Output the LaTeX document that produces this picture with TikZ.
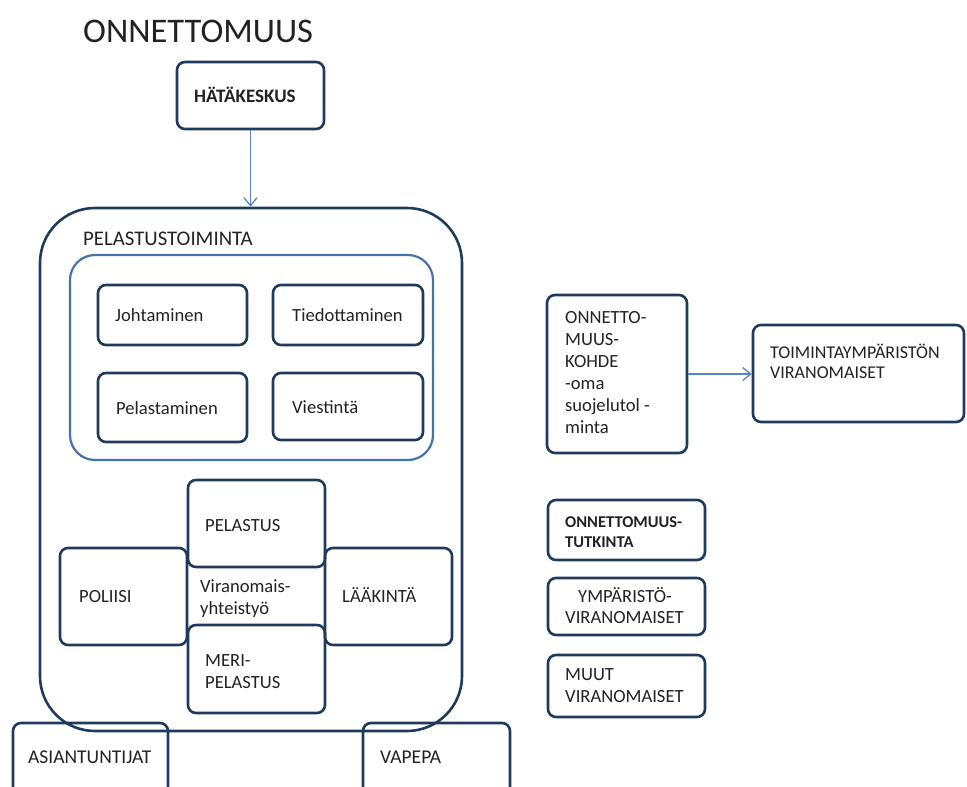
\documentclass[tikz,border=0pt]{standalone}
\usepackage{fontspec}
\setmainfont{Carlito}
\usetikzlibrary{arrows.meta}

\definecolor{navy}{HTML}{203A5E}
\definecolor{frameblue}{HTML}{4672AA}
\definecolor{arrowblue}{HTML}{5A86C0}
\definecolor{ink}{HTML}{222222}

\tikzset{
  box/.style={draw=navy, line width=2.6pt, rounded corners=8pt, inner sep=0pt},
  lbl/.style={anchor=base west, inner sep=0pt, text=ink, font=\fontsize{18.6}{20}\selectfont},
  blbl/.style={lbl, font=\fontsize{16.5}{20}\selectfont\bfseries},
  link/.style={draw=arrowblue, line width=1.3pt, -{Straight Barb[length=8pt,width=13pt]}}
}

% \panel[style]{name}{x1}{y1}{x2}{y2}: a box spanning the given corners
\newcommand\panel[6][]{%
  \node[box,#1, minimum width={(#5-#3)*1pt}, minimum height={(#6-#4)*1pt}]
    (#2) at ({(#3+#5)/2},{(#4+#6)/2}) {};}

\begin{document}
\begin{tikzpicture}[x=1pt,y=-1pt]
  \useasboundingbox (0,0) rectangle (967,787);
  \clip (0,0) rectangle (967,787);

  % title
  \node[lbl, font=\fontsize{34.5}{36}\selectfont] (title) at (83,42) {ONNETTOMUUS};

  % emergency centre
  \panel{hk}{177}{62}{324}{129}
  \node[blbl, font=\fontsize{19}{20}\selectfont\bfseries] (hkt) at (194,102) {HÄTÄKESKUS};

  % rescue operations
  \panel[rounded corners=55pt]{outer}{40}{208}{462}{731}
  \node[lbl, font=\fontsize{20.8}{22}\selectfont] (pelt) at (83,245) {PELASTUSTOIMINTA};
  \panel[draw=frameblue, line width=2.2pt, rounded corners=25pt]{frame}{70}{255}{433}{460}

  \panel{joh}{98}{285}{247}{345}
  \panel{tied}{273}{285}{423}{345}
  \panel{pelm}{98}{373}{247}{442}
  \panel{vies}{273}{373}{423}{440}
  \node[lbl] (joht) at (115,321) {Johtaminen};
  \node[lbl] (tiedt) at (292,321) {Tiedottaminen};
  \node[lbl] (pelmt) at (116,414) {Pelastaminen};
  \node[lbl] (viest) at (292,413) {Viestintä};

  % authority cooperation
  \panel{pel}{188}{480}{325}{567}
  \panel{pol}{60}{548}{187}{645}
  \panel{laa}{325}{548}{452}{645}
  \panel{meri}{188}{625}{325}{713}
  \node[lbl] (pelt2) at (205,531) {PELASTUS};
  \node[lbl] (polt) at (79,602) {POLIISI};
  \node[lbl] (laat) at (342,602) {LÄÄKINTÄ};
  \node[lbl] (vir1) at (200,592) {Viranomais-};
  \node[lbl] (vir2) at (200,614) {yhteistyö};
  \node[lbl] (meri1) at (205,666) {MERI-};
  \node[lbl] (meri2) at (205,688) {PELASTUS};

  % helpers below
  \panel{asi}{13}{723}{168}{810}
  \panel{vap}{363}{723}{510}{810}
  \node[lbl, font=\fontsize{19.5}{20}\selectfont] (asit) at (28,763) {ASIANTUNTIJAT};
  \node[lbl, font=\fontsize{19.5}{20}\selectfont] (vapt) at (380,763) {VAPEPA};

  % site of the accident
  \panel{kohde}{547}{295}{687}{453}
  \node[lbl] (k1) at (565,323) {ONNETTO-};
  \node[lbl] (k2) at (565,345) {MUUS-};
  \node[lbl] (k3) at (565,367) {KOHDE};
  \node[lbl] (k4) at (565,389) {-oma};
  \node[lbl] (k5) at (565,411) {suojelutol -};
  \node[lbl] (k6) at (565,433) {minta};

  \panel{toim}{753}{325}{964}{422}
  \node[lbl, font=\fontsize{18}{20}\selectfont] (toim1) at (770,358) {TOIMINTAYMPÄRISTÖN};
  \node[lbl, font=\fontsize{18}{20}\selectfont] (toim2) at (770,378) {VIRANOMAISET};

  % other authorities
  \panel{tutk}{548}{500}{705}{560}
  \node[blbl] (tutk1) at (565,527) {ONNETTOMUUS-};
  \node[blbl] (tutk2) at (565,547) {TUTKINTA};
  \panel{ymp}{548}{578}{705}{635}
  \node[lbl] (ymp1) at (578,602) {YMPÄRISTÖ-};
  \node[lbl] (ymp2) at (565,623) {VIRANOMAISET};
  \panel{muut}{548}{655}{705}{717}
  \node[lbl] (muut1) at (565,680) {MUUT};
  \node[lbl] (muut2) at (565,702) {VIRANOMAISET};

  % connectors
  \draw[link] (hk.south) -- (hk.south |- outer.north);
  \draw[link] (kohde.east) -- (kohde.east -| toim.west);
\end{tikzpicture}
\end{document}
